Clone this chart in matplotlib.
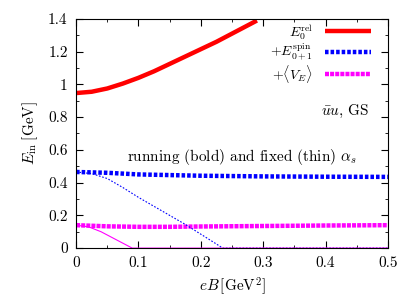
import numpy as np
import matplotlib
matplotlib.use("Agg")
import matplotlib.pyplot as plt
from matplotlib.ticker import MultipleLocator

plt.rcParams['font.family'] = 'serif'
plt.rcParams['font.serif'] = ['cmr10', 'DejaVu Serif']
plt.rcParams['mathtext.fontset'] = 'cm'
plt.rcParams['axes.formatter.use_mathtext'] = True
plt.rcParams['font.size'] = 11

# E_0^rel (running)
eb_rel = [0, 0.025, 0.05, 0.075, 0.1, 0.125, 0.15, 0.175, 0.2, 0.225, 0.25, 0.275, 0.29]
e_rel = [0.947, 0.955, 0.975, 1.005, 1.04, 1.08, 1.125, 1.17, 1.215, 1.26, 1.31, 1.36, 1.39]

# + E_{0+1}^spin, running (bold) and fixed (thin)
eb_spin = [0, 0.05, 0.1, 0.2, 0.3, 0.4, 0.5]
e_spin = [0.465, 0.46, 0.45, 0.442, 0.438, 0.436, 0.435]
eb_spin_f = [0, 0.025, 0.05, 0.075, 0.1, 0.125, 0.15, 0.175, 0.2, 0.225, 0.235, 0.5]
e_spin_f = [0.465, 0.455, 0.425, 0.37, 0.31, 0.255, 0.20, 0.145, 0.085, 0.025, 0.0, 0.0]

# + <V_E>, running (bold) and fixed (thin)
eb_ve = [0, 0.05, 0.1, 0.15, 0.2, 0.3, 0.4, 0.5]
e_ve = [0.14, 0.133, 0.13, 0.13, 0.132, 0.135, 0.138, 0.14]
eb_ve_f = [0, 0.02, 0.04, 0.06, 0.08, 0.09, 0.5]
e_ve_f = [0.14, 0.13, 0.10, 0.06, 0.02, 0.0, 0.0]

xticks = [0, 0.1, 0.2, 0.3, 0.4, 0.5]
xlabels = ['0', '0.1', '0.2', '0.3', '0.4', '0.5']
yticks = [0, 0.2, 0.4, 0.6, 0.8, 1.0, 1.2, 1.4]
ylabels = ['0', '0.2', '0.4', '0.6', '0.8', '1', '1.2', '1.4']

fig = plt.figure(figsize=(4.18, 3.0), dpi=100)
ax = fig.add_axes([0.182, 0.173, 0.746, 0.764])

ax.plot(eb_rel, e_rel, color='#ff0000', lw=3.2, solid_capstyle='butt', label=r'$E_0^{\rm rel}$')
ax.plot(eb_spin, e_spin, color='#0000ff', lw=3.2, ls=(0, (0.8, 0.45)), label=r'$+E_{0+1}^{\rm spin}$')
ax.plot(eb_ve, e_ve, color='#ff00ff', lw=3.2, ls=(0, (0.9, 0.25)), label=r'$+\langle V_E\rangle$')
ax.plot(eb_spin_f, e_spin_f, color='#0000ff', lw=0.8, ls=(0, (1.5, 1.5)))
ax.plot(eb_ve_f, e_ve_f, color='#ff00ff', lw=0.8)

ax.set_xlim(0, 0.5)
ax.set_ylim(0, 1.4)
ax.set_xticks(xticks)
ax.set_xticklabels(xlabels)
ax.set_yticks(yticks)
ax.set_yticklabels(ylabels)
ax.xaxis.set_minor_locator(MultipleLocator(0.05))
ax.yaxis.set_minor_locator(MultipleLocator(0.1))
ax.tick_params(which='both', direction='in', top=True, right=True)
ax.tick_params(which='major', length=5, pad=6)
ax.tick_params(which='minor', length=2.5)

ax.set_xlabel(r'$eB\,[{\rm GeV}^2]$')
ax.set_ylabel(r'$E_{\rm in}\;[{\rm GeV}]$', labelpad=6)

ax.text(0.431, 0.837, r'$\bar{u}u$, GS', ha='center', va='center')
ax.text(0.266, 0.556, r'running (bold) and fixed (thin) $\alpha_s$', ha='center', va='center')

ax.legend(loc='upper right', bbox_to_anchor=(0.955, 1.0), frameon=False, markerfirst=False,
          fontsize=10, handlelength=3.3, labelspacing=0.0, borderaxespad=0.0,
          handletextpad=0.9, borderpad=0.2)

fig.savefig('out.png', dpi=100)
